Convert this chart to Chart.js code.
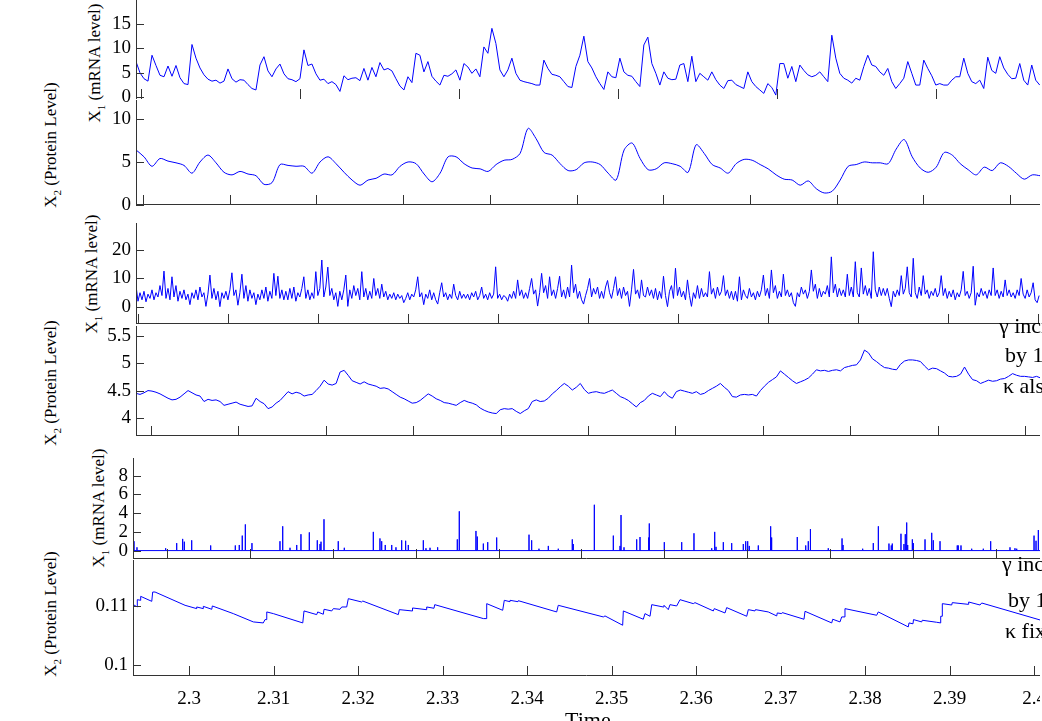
<!DOCTYPE html>
<html>
<head>
<meta charset="utf-8">
<script src="https://cdn.jsdelivr.net/npm/chart.js@4.4.0/dist/chart.umd.min.js"></script>
<style>
  body { margin: 0; width: 1042px; height: 721px; overflow: hidden; background: #fff; position: relative; font-family: "Liberation Serif", serif; }
  canvas { position: absolute; left: 0; }
  .ytitle { position: absolute; transform: translate(-50%, -50%) rotate(-90deg); white-space: nowrap; font-size: 17px; line-height: 1; color: #000; }
  .ytitle .sb { font-size: 11px; position: relative; top: 5px; }
  .note { position: absolute; white-space: nowrap; font-size: 22px; line-height: 1; color: #000; }
</style>
</head>
<body>

<div class="ytitle" style="left:94px;top:63px">X<span class="sb">1</span> (mRNA level)</div>
<div class="ytitle" style="left:50px;top:145px">X<span class="sb">2</span> (Protein Level)</div>
<div class="ytitle" style="left:91px;top:274px">X<span class="sb">1</span> (mRNA level)</div>
<div class="ytitle" style="left:50px;top:383px">X<span class="sb">2</span> (Protein Level)</div>
<div class="ytitle" style="left:98px;top:508px">X<span class="sb">1</span> (mRNA level)</div>
<div class="ytitle" style="left:50px;top:614px">X<span class="sb">2</span> (Protein Level)</div>

<script>
// ---- top pair: mRNA and protein, sampled on a regular time grid ----
const mrnaAStart = 2.29937, mrnaAStep = 0.000503;
const mrnaA = [
  7.3,5.0,3.8,3.3,8.6,6.5,4.5,4.2,6.4,4.3,
  6.5,4.0,2.8,2.6,10.8,8.0,6.0,4.6,3.7,3.3,
  3.5,2.9,3.3,5.8,3.8,3.1,3.6,3.5,2.6,1.8,
  1.5,6.6,8.3,5.4,4.2,5.8,6.8,4.8,3.8,3.6,
  3.2,3.8,9.7,6.5,6.8,4.8,3.5,3.7,2.8,3.2,
  2.6,1.2,4.4,3.6,3.9,4.0,3.4,5.9,3.5,6.1,
  4.2,7.1,5.6,5.9,5.4,3.8,2.3,1.5,4.2,3.0,
  9.0,8.6,5.2,7.3,4.3,3.3,2.5,4.5,4.3,4.8,
  5.6,3.5,6.9,6.2,4.9,5.8,4.2,10.3,9.0,14.1,
  11.0,5.6,4.2,5.6,8.0,4.9,3.5,3.2,3.0,2.8,
  2.5,2.5,7.6,5.9,4.7,4.5,4.2,3.2,2.2,2.0,
  6.3,8.6,12.5,7.3,6.0,4.2,2.8,1.6,5.2,4.2,
  4.0,8.0,5.2,4.5,4.3,3.2,2.2,10.7,12.3,6.9,
  4.9,2.5,5.2,3.9,3.6,3.7,6.6,6.9,3.2,8.4,
  3.2,4.9,4.2,3.5,5.2,3.6,2.5,1.8,3.4,3.5,
  2.6,2.2,1.8,5.2,3.2,2.2,1.5,0.8,2.8,2.0,
  0.45,6.9,6.9,3.9,6.3,3.2,6.6,5.5,4.6,4.2,
  4.5,5.2,4.2,3.2,12.7,8.0,4.9,3.9,3.5,2.9,
  3.9,3.5,6.3,8.6,6.6,6.3,5.2,4.5,5.9,3.2,
  1.8,2.8,3.9,7.3,4.9,2.5,2.5,7.6,5.9,4.4,
  2.5,2.8,2.5,2.5,3.5,4.2,4.2,8.0,4.9,3.2,
  2.8,3.5,1.8,8.2,5.5,4.9,8.3,6.0,4.7,3.8,
  3.9,6.9,3.5,2.5,6.6,3.5,2.5
];

const proteinAStart = 2.29919, proteinAStep = 0.000923;
const proteinA = [
  6.4,5.6,4.5,5.4,5.1,4.9,4.6,3.7,5.0,5.8,
  4.9,3.8,3.5,3.9,3.6,3.4,2.4,2.6,4.7,4.6,
  4.5,4.5,3.7,5.0,5.6,4.8,3.8,2.9,2.3,2.9,
  3.1,3.6,3.5,4.5,5.0,4.8,3.6,2.7,3.7,5.6,
  5.6,4.8,4.3,4.2,3.9,4.7,5.2,5.3,6.0,8.9,
  7.7,6.1,5.8,4.8,4.0,4.1,4.9,5.0,4.7,3.7,
  2.9,6.4,7.2,5.4,4.1,4.2,4.9,4.8,4.5,3.8,
  7.0,6.0,4.7,4.3,3.7,4.8,5.3,5.2,4.7,4.2,
  3.5,3.0,2.9,2.3,2.8,1.9,1.4,1.6,2.9,4.5,
  4.7,5.0,4.9,4.9,4.8,6.5,7.6,5.6,4.3,3.8,
  4.4,6.1,5.8,4.8,4.1,3.5,4.4,4.0,4.9,4.5,
  3.7,3.0,3.5,3.4
];

// ---- middle pair: gamma increased, kappa also ----
const mrnaBStart = 2.29978, mrnaBStep = 0.000222;
const mrnaB = [
  7.5,2.0,5.0,2.5,5.5,1.8,4.5,3.0,6.0,2.5,5.0,3.5,7.5,4.0,12.6,
  3.0,6.5,2.5,10.6,3.5,7.5,2.0,5.5,3.0,6.0,2.5,4.5,0.8,5.0,3.0,
  6.0,2.5,7.0,3.5,5.0,0.2,4.5,11.2,3.0,6.5,2.5,5.5,0.1,5.0,3.0,
  5.5,2.5,6.0,12.0,4.0,6.0,0.6,5.0,11.5,3.0,7.5,2.0,6.0,3.0,5.0,
  0.8,4.5,2.5,6.0,3.0,7.0,2.0,5.5,3.0,11.8,4.0,10.8,3.0,6.0,2.5,
  5.5,2.5,6.5,3.0,7.0,2.0,5.0,3.5,6.5,10.6,3.0,6.0,2.5,5.0,3.0,
  12.4,4.0,6.5,16.5,3.5,7.0,14.0,4.0,6.5,2.5,5.0,0.2,5.5,2.5,6.0,
  11.2,0.2,6.0,3.0,7.5,4.0,6.5,2.5,12.4,3.5,6.5,2.5,5.5,3.0,10.0,
  4.0,6.5,3.0,8.0,3.5,5.5,2.5,4.5,3.0,5.0,2.5,4.5,3.0,4.0,1.5,
  3.0,5.0,2.5,4.5,3.5,6.0,10.6,3.5,5.0,0.8,4.5,3.0,6.0,2.5,5.0,
  2.5,1.0,5.0,8.5,3.5,5.0,2.5,4.5,3.0,8.0,4.0,2.5,5.5,3.0,4.5,
  3.0,4.5,2.5,5.0,3.5,5.5,2.5,4.0,7.0,3.0,4.5,2.5,5.0,3.0,4.5,
  14.1,3.0,4.5,2.5,4.0,3.5,2.0,4.5,3.0,5.5,3.0,9.5,4.0,6.0,3.0,
  5.0,3.0,6.5,10.0,4.5,6.0,0.3,5.0,11.8,5.0,7.5,3.0,10.6,4.0,6.0,
  3.0,6.5,10.8,3.5,6.0,3.0,7.0,3.5,14.7,5.0,8.0,3.0,5.5,2.5,1.0,
  4.0,6.5,10.0,3.5,6.5,4.5,7.0,3.0,5.5,3.0,7.0,9.3,5.0,3.0,6.5,
  10.6,4.0,6.5,3.0,7.0,4.0,5.5,0.2,6.0,13.2,4.5,6.0,3.0,9.5,4.0,
  3.5,7.0,4.0,6.0,3.0,6.5,2.5,5.5,3.0,10.8,4.0,0.1,5.5,7.5,3.0,
  13.6,4.0,7.0,3.5,5.5,2.5,9.5,4.0,0.2,5.0,3.0,7.5,3.0,6.5,3.5,
  5.0,3.5,12.4,4.5,6.5,3.0,7.0,4.0,5.5,11.0,4.0,6.0,3.0,5.5,2.5,
  5.5,2.0,10.6,2.5,6.0,4.0,3.0,6.5,3.5,5.0,2.5,5.5,3.5,6.0,11.2,
  4.0,6.5,3.0,13.0,5.0,7.5,3.0,5.5,3.5,11.5,4.0,6.0,3.5,5.0,1.5,
  0.2,5.0,3.5,7.0,4.5,6.0,3.0,5.5,13.0,5.5,8.0,3.0,6.5,3.5,5.5,
  4.5,7.5,3.5,17.6,5.0,8.0,3.5,6.5,4.0,6.0,3.5,11.5,4.0,7.0,3.5,
  15.9,5.0,3.5,13.7,4.5,7.5,4.0,6.5,3.0,19.4,6.0,3.5,7.0,4.0,6.5,
  4.0,6.5,3.0,0.1,5.5,3.5,6.0,4.0,11.0,4.5,6.5,14.1,5.0,3.5,17.1,
  5.0,3.0,7.0,4.0,11.0,4.5,6.0,3.0,5.5,4.0,6.5,3.5,5.0,11.0,4.0,
  6.5,3.0,5.5,3.5,6.0,2.5,5.0,3.5,6.0,12.5,4.0,5.5,3.0,5.0,14.3,
  0.6,5.0,3.5,6.5,4.0,5.5,3.0,6.0,4.0,13.7,4.0,6.0,3.0,5.5,3.5,
  9.5,4.0,6.0,3.5,5.0,3.0,6.0,4.0,10.0,4.5,3.0,6.0,3.5,5.0,8.5,
  2.5,1.5,4.0
];

const proteinBStart = 2.29828, proteinBStep = 0.000458;
const proteinB = [
  4.45,4.43,4.46,4.50,4.49,4.47,4.44,4.40,4.36,4.33,
  4.34,4.38,4.44,4.50,4.46,4.42,4.40,4.30,4.34,4.32,
  4.33,4.30,4.23,4.25,4.27,4.29,4.25,4.23,4.21,4.22,
  4.36,4.30,4.26,4.17,4.20,4.27,4.32,4.40,4.48,4.44,
  4.47,4.45,4.40,4.42,4.43,4.50,4.58,4.69,4.62,4.60,
  4.63,4.84,4.87,4.78,4.68,4.65,4.62,4.66,4.62,4.60,
  4.58,4.54,4.55,4.53,4.48,4.43,4.38,4.35,4.31,4.27,
  4.28,4.32,4.38,4.44,4.40,4.35,4.32,4.28,4.27,4.25,
  4.23,4.28,4.32,4.29,4.27,4.24,4.18,4.14,4.11,4.09,
  4.08,4.15,4.17,4.16,4.17,4.12,4.08,4.13,4.17,4.30,
  4.33,4.30,4.31,4.36,4.44,4.50,4.57,4.63,4.58,4.51,
  4.56,4.63,4.52,4.45,4.47,4.48,4.46,4.45,4.48,4.51,
  4.45,4.39,4.36,4.32,4.26,4.20,4.28,4.32,4.40,4.45,
  4.42,4.39,4.48,4.40,4.36,4.48,4.51,4.49,4.47,4.45,
  4.48,4.43,4.45,4.50,4.54,4.58,4.63,4.56,4.50,4.39,
  4.38,4.42,4.43,4.42,4.43,4.40,4.50,4.58,4.65,4.70,
  4.75,4.86,4.80,4.74,4.68,4.63,4.66,4.69,4.73,4.80,
  4.88,4.86,4.87,4.85,4.87,4.88,4.86,4.92,4.94,4.96,
  4.97,5.06,5.24,5.19,5.08,5.03,4.97,4.92,4.91,4.89,
  4.88,4.98,5.04,5.06,5.06,5.05,5.03,4.95,4.88,4.91,
  4.90,4.86,4.82,4.76,4.75,4.76,4.80,4.93,4.80,4.70,
  4.68,4.63,4.66,4.69,4.67,4.68,4.71,4.72,4.76,4.81,
  4.78,4.76,4.76,4.75,4.74,4.76,4.73
];

// ---- bottom pair: kappa fixed, mRNA bursts and protein sawtooth ----
const burstTimes = [
  2.29602,2.29638,2.29984,2.30117,2.30189,2.30209,2.30298,2.30527,2.30824,2.30872,
  2.30908,2.30945,2.31025,2.31363,2.31396,2.31484,2.31565,2.31616,2.31717,2.31813,
  2.31846,2.31858,2.31894,2.32066,2.32139,2.32489,2.32569,2.32590,2.32633,2.32711,
  2.32762,2.32831,2.32879,2.32911,2.33092,2.33124,2.33173,2.33265,2.33502,2.33526,
  2.33727,2.33743,2.33816,2.33869,2.33977,2.34367,2.34399,2.34487,2.34600,2.34720,
  2.34889,2.34901,2.35155,2.35384,2.35465,2.35477,2.35513,2.35666,2.35706,2.35811,
  2.35818,2.35999,2.36209,2.36357,2.36571,2.36607,2.36623,2.36711,2.36812,2.36952,
  2.36981,2.37005,2.37024,2.37133,2.37282,2.37294,2.37603,2.37705,2.37736,2.37757,
  2.37765,2.37977,2.38143,2.38155,2.38392,2.38520,2.38581,2.38709,2.38737,2.38749,
  2.38854,2.38890,2.38906,2.38923,2.38935,2.38991,2.39003,2.39144,2.39225,2.39244,
  2.39325,2.39533,2.39545,2.39578,2.39707,2.39847,2.39936,2.40169,2.40229,2.40250,
  2.40459,2.40483,2.40511
];
const burstHeights = [
  1.0,0.35,0.25,0.8,1.25,0.95,1.1,0.55,0.55,0.6,
  1.6,2.8,0.8,1.0,2.6,0.3,0.6,1.75,1.95,1.1,
  0.7,0.95,3.35,1.0,0.3,2.0,1.3,1.0,0.6,0.6,
  0.35,1.1,1.05,0.6,1.1,0.25,0.3,0.35,1.2,4.2,
  2.1,1.5,0.75,0.9,1.4,1.7,1.1,0.2,0.5,0.2,
  1.2,0.7,4.9,1.6,0.5,3.8,0.35,1.2,1.45,1.4,
  2.9,0.9,0.9,1.85,0.25,2.0,0.4,0.9,0.8,0.7,
  1.0,1.0,0.5,0.55,2.6,1.4,1.45,0.55,1.0,1.0,
  2.3,0.25,1.3,0.6,0.2,0.8,2.6,0.75,0.55,0.75,
  1.8,0.7,1.75,3.0,0.6,1.2,0.8,1.2,1.9,1.1,
  1.0,0.55,0.55,0.55,0.2,0.2,1.0,0.35,0.25,0.2,
  1.6,1.05,2.2
];

const sawTimes = [
  2.29341,2.29388,2.29388,2.29428,2.29428,2.29559,2.29570,2.29598,2.29953,2.30091,
  2.30091,2.30169,2.30169,2.30269,2.30276,2.30524,2.30761,2.30879,2.30899,2.30920,
  2.30920,2.30998,2.31346,2.31361,2.31511,2.31523,2.31589,2.31598,2.31689,2.31708,
  2.31787,2.31807,2.31866,2.31885,2.32044,2.32056,2.32477,2.32489,2.32639,2.32645,
  2.32805,2.32813,2.32899,2.32908,2.33483,2.33523,2.33523,2.33712,2.33731,2.33799,
  2.33799,2.33893,2.33897,2.34351,2.34370,2.34903,2.34923,2.35132,2.35140,2.35376,
  2.35396,2.35456,2.35476,2.35613,2.35621,2.35672,2.35692,2.35771,2.35811,2.35968,
  2.35988,2.36205,2.36216,2.36343,2.36363,2.36600,2.36619,2.36698,2.36704,2.36855,
  2.36955,2.36962,2.37014,2.37021,2.37278,2.37290,2.37606,2.37618,2.37704,2.37724,
  2.37763,2.37763,2.38138,2.38157,2.38512,2.38521,2.38568,2.38574,2.38671,2.38678,
  2.38848,2.38896,2.38896,2.38915,2.38915,2.39026,2.39033,2.39219,2.39227,2.39361,
  2.39381,2.40083
];
const sawValues = [
  0.11023,0.10984,0.11107,0.11096,0.11163,0.11079,0.11236,0.11236,0.11012,0.10956,
  0.10984,0.10956,0.10995,0.10945,0.11001,0.10872,0.10732,0.10715,0.10771,0.10771,
  0.10900,0.10872,0.10715,0.10917,0.10855,0.10900,0.10861,0.10945,0.10917,0.10956,
  0.10945,0.10984,0.10984,0.11124,0.11068,0.11084,0.10855,0.10939,0.10917,0.10967,
  0.10939,0.10984,0.10962,0.11023,0.10788,0.10788,0.11040,0.10928,0.11096,0.11073,
  0.11096,0.11073,0.11090,0.10900,0.11012,0.10816,0.10833,0.10676,0.10917,0.10777,
  0.10872,0.10827,0.11023,0.10984,0.11012,0.10939,0.11023,0.11001,0.11107,0.11040,
  0.11057,0.10917,0.10956,0.10883,0.10973,0.10827,0.10939,0.10917,0.10939,0.10900,
  0.10833,0.10883,0.10872,0.10889,0.10777,0.10911,0.10715,0.10777,0.10732,0.10816,
  0.10816,0.10956,0.10844,0.10900,0.10648,0.10715,0.10700,0.10771,0.10732,0.10760,
  0.10726,0.10715,0.10827,0.10827,0.11040,0.11017,0.11057,0.11029,0.11068,0.11017,
  0.11051,0.10760
];

const BLUE = '#0000ff';
const FONT = {family: 'Liberation Serif', size: 19};
const tickText = v => String(Number(v.toFixed(4)));

function sampled(values, start, step) {
  return values.map((v, i) => ({x: start + i * step, y: v}));
}

// draws the axis lines and the tick marks pointing into the plot
const inwardAxes = {
  id: 'inwardAxes',
  afterDraw(chart, args, opts) {
    const {ctx, chartArea, scales} = chart;
    const {left, right, top, bottom} = chartArea;
    ctx.save();
    ctx.strokeStyle = '#333';
    ctx.lineWidth = 1;
    ctx.beginPath();
    const lx = Math.round(left) + 0.5;
    ctx.moveTo(lx, top);
    ctx.lineTo(lx, bottom);
    if (opts.baseLine) {
      const by = Math.round(bottom) - 0.5;
      ctx.moveTo(left, by);
      ctx.lineTo(right, by);
    }
    scales.x.ticks.forEach(t => {
      const px = Math.round(scales.x.getPixelForValue(t.value)) + 0.5;
      ctx.moveTo(px, bottom);
      ctx.lineTo(px, bottom - 10);
    });
    scales.y.ticks.forEach(t => {
      const py = Math.round(scales.y.getPixelForValue(t.value)) + 0.5;
      ctx.moveTo(left, py);
      ctx.lineTo(left + 8, py);
    });
    ctx.stroke();
    ctx.restore();
  }
};

function panel(p) {
  const cv = document.createElement('canvas');
  cv.width = 1040;
  cv.height = p.padTop + p.plotH + p.padBottom + p.xAxisH;
  cv.style.top = (p.top - p.padTop) + 'px';
  document.body.appendChild(cv);

  return new Chart(cv, {
    type: 'line',
    data: {
      datasets: [{
        data: p.points,
        borderColor: BLUE,
        borderWidth: 1,
        pointRadius: 0,
        tension: p.tension || 0,
        fill: false
      }]
    },
    options: {
      responsive: false,
      animation: false,
      events: [],
      parsing: false,
      layout: {padding: {top: p.padTop, bottom: p.padBottom, left: 0, right: 0}, autoPadding: false},
      plugins: {legend: {display: false}, tooltip: {enabled: false}, inwardAxes: {baseLine: p.baseLine}},
      scales: {
        x: {
          type: 'linear',
          min: p.xMin, max: p.xMax,
          grid: {display: false, drawTicks: false},
          border: {display: false},
          ticks: {
            display: p.xLabels, stepSize: p.xStep, includeBounds: false,
            autoSkip: false, maxRotation: 0, padding: 12,
            color: '#000', font: FONT, callback: tickText
          },
          afterFit: s => { s.height = p.xAxisH; s.paddingLeft = 0; s.paddingRight = 0; }
        },
        y: {
          min: p.yMin, max: p.yMax,
          grid: {display: false, drawTicks: false},
          border: {display: false},
          ticks: {
            stepSize: p.yStep, includeBounds: false, autoSkip: false,
            padding: 5, color: '#000', font: FONT, callback: tickText
          },
          afterFit: s => { s.width = p.left; s.paddingTop = 0; s.paddingBottom = 0; }
        }
      }
    },
    plugins: [inwardAxes]
  });
}

// bursts become vertical strokes off a zero baseline
const burstLine = [{x: 2.2959, y: 0}];
burstTimes.forEach((t, i) => {
  burstLine.push({x: t, y: 0}, {x: t, y: burstHeights[i]}, {x: t, y: 0});
});
burstLine.push({x: 2.40531, y: 0});

const sawLine = sawTimes.map((t, i) => ({x: t, y: sawValues[i]}));

panel({top: 0, plotH: 99, padTop: 0, padBottom: 12, xAxisH: 0, left: 136, baseLine: false,
  xMin: 2.29937, xMax: 2.41308, xStep: 0.02, xLabels: false,
  yMin: -0.35, yMax: 19.9, yStep: 5, points: sampled(mrnaA, mrnaAStart, mrnaAStep)});

panel({top: 100, plotH: 105, padTop: 10, padBottom: 10, xAxisH: 0, left: 136, baseLine: true,
  xMin: 2.29919, xMax: 2.40346, xStep: 0.01, xLabels: false, tension: 0.3,
  yMin: 0, yMax: 12.2, yStep: 5, points: sampled(proteinA, proteinAStart, proteinAStep)});

panel({top: 223, plotH: 101, padTop: 10, padBottom: 10, xAxisH: 0, left: 136, baseLine: true,
  xMin: 2.29978, xMax: 2.40022, xStep: 0.01, xLabels: false,
  yMin: -6, yMax: 29.5, yStep: 10, points: sampled(mrnaB, mrnaBStart, mrnaBStep)});

panel({top: 326, plotH: 110, padTop: 10, padBottom: 10, xAxisH: 0, left: 136, baseLine: true,
  xMin: 2.29828, xMax: 2.40172, xStep: 0.01, xLabels: false,
  yMin: 3.67, yMax: 5.68, yStep: 0.5, points: sampled(proteinB, proteinBStart, proteinBStep)});

panel({top: 458, plotH: 101, padTop: 10, padBottom: 10, xAxisH: 0, left: 133, baseLine: true,
  xMin: 2.2959, xMax: 2.40531, xStep: 0.01, xLabels: false,
  yMin: -0.9, yMax: 9.9, yStep: 2, points: burstLine});

panel({top: 560, plotH: 116, padTop: 10, padBottom: 0, xAxisH: 45, left: 133, baseLine: true,
  xMin: 2.29337, xMax: 2.40071, xStep: 0.01, xLabels: true,
  yMin: 0.0982, yMax: 0.11776, yStep: 0.01, points: sawLine});
</script>

<div class="note" style="left:999px;top:315px">γ increased</div>
<div class="note" style="left:1005px;top:344px">by 10</div>
<div class="note" style="left:1003px;top:375px">κ also</div>
<div class="note" style="left:1002px;top:553px">γ increased</div>
<div class="note" style="left:1008px;top:589px">by 10</div>
<div class="note" style="left:1005px;top:620px">κ fixed</div>
<div class="note" style="left:565px;top:709px">Time</div>

</body>
</html>
